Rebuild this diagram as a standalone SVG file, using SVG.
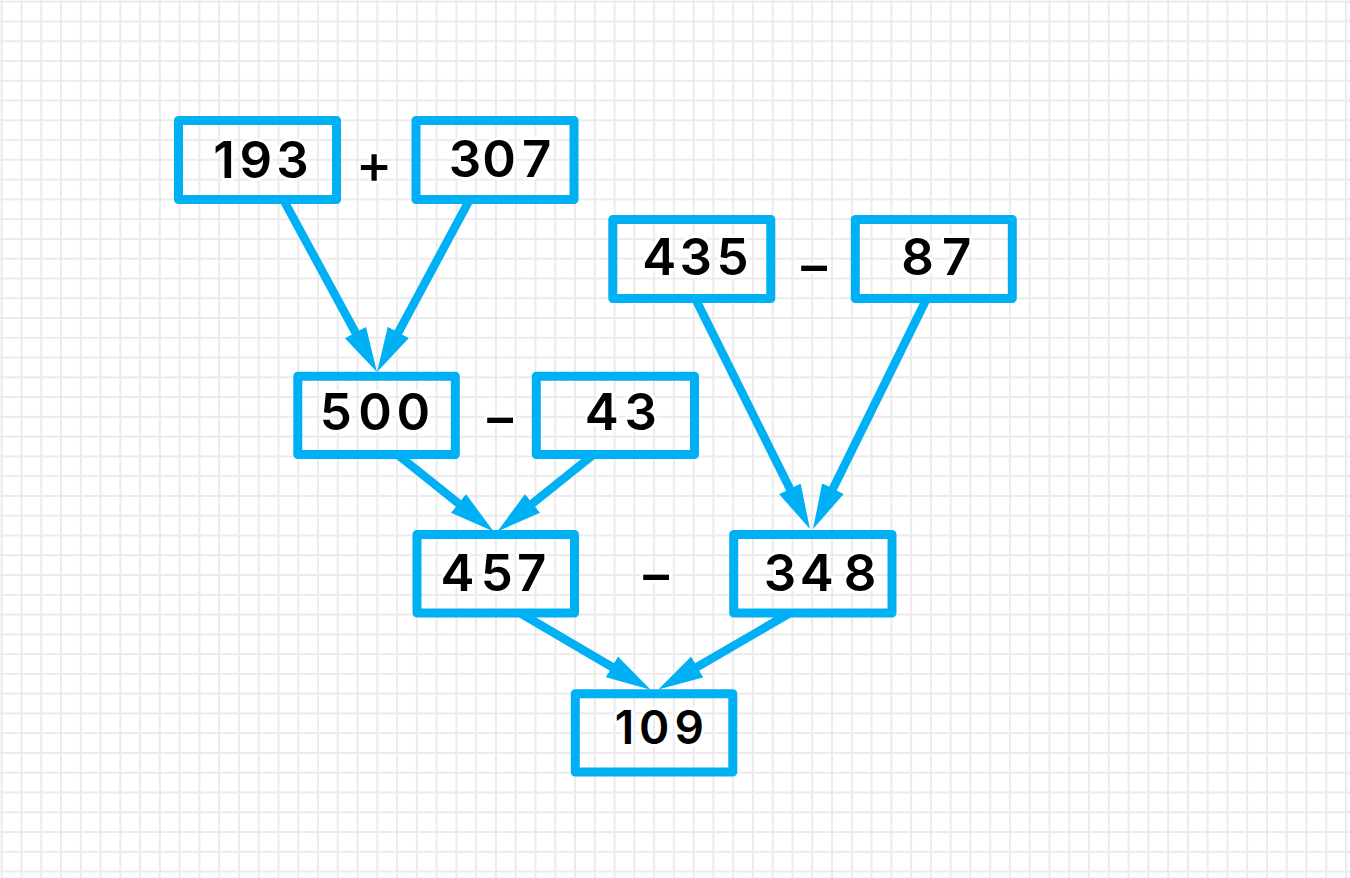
<svg xmlns="http://www.w3.org/2000/svg" width="1350" height="878" viewBox="0 0 1350 878">
<style>
.box{fill:none;stroke:#00b0f5;stroke-width:9;stroke-linejoin:round}
.num{font-family:Inter,"Liberation Sans",Arial,sans-serif;font-weight:600;font-size:51px;fill:#000;stroke:#fff;stroke-width:6;stroke-linejoin:round;paint-order:stroke;text-anchor:middle}
.op{font-family:Inter,"Liberation Sans",Arial,sans-serif;font-weight:500;font-size:55px;fill:#000;stroke:#fff;stroke-width:6;stroke-linejoin:round;paint-order:stroke;text-anchor:middle}
.arr{fill:none;stroke:#00b0f5;stroke-width:8.5;marker-end:url(#ah)}
</style>
<defs>
<pattern id="grid" patternUnits="userSpaceOnUse" x="0.7" y="0.7" width="19.77" height="19.77">
<rect x="0" y="0" width="19.77" height="2" fill="#ebebeb"/>
<rect x="0" y="0" width="2" height="19.77" fill="#ebebeb"/>
</pattern>
<marker id="ah" markerUnits="userSpaceOnUse" markerWidth="46" markerHeight="26" viewBox="0 0 46 26" refX="20" refY="13" orient="auto">
<path d="M0,1 L45,13 L0,25 z" fill="#00b0f5"/>
</marker>
</defs>
<rect width="1350" height="878" fill="#fff"/>
<rect width="1350" height="878" fill="url(#grid)"/>
<g id="connectors">
<line class="arr" x1="283" y1="199" x2="365.0" y2="350.1"/>
<line class="arr" x1="470" y1="199" x2="388.9" y2="350.0"/>
<line class="arr" x1="398" y1="455" x2="474.1" y2="515.9"/>
<line class="arr" x1="593" y1="455" x2="516.9" y2="515.9"/>
<line class="arr" x1="695" y1="298" x2="798.8" y2="506.7"/>
<line class="arr" x1="927" y1="298" x2="824.1" y2="506.6"/>
<line class="arr" x1="520" y1="613" x2="629.1" y2="677.0"/>
<line class="arr" x1="790" y1="613" x2="679.9" y2="677.0"/>
</g>
<g id="n193"><rect class="box" x="178.5" y="120.5" width="158" height="79"/><text class="num" x="224 255.8 292.5" y="178.3">193</text></g>
<g id="n307"><rect class="box" x="416" y="120.5" width="158" height="79"/><text class="num" x="465 499.2 536.7" y="176.7">307</text></g>
<g id="op1"><text class="op" x="374" y="183">+</text></g>
<g id="n435"><rect class="box" x="612.8" y="219.5" width="158" height="79"/><text class="num" x="659.2 695.8 732.5" y="275">435</text></g>
<g id="n87"><rect class="box" x="855.3" y="219.5" width="157" height="79"/><text class="num" x="917.5 956.7" y="275">87</text></g>
<g id="op2"><text class="op" x="814" y="284">−</text></g>
<g id="n500"><rect class="box" x="297.8" y="376.3" width="157.5" height="78.2"/><text class="num" x="335.8 375 413.3" y="430">500</text></g>
<g id="n43"><rect class="box" x="536.3" y="376.3" width="158.2" height="78.2"/><text class="num" x="601.7 640.8" y="430">43</text></g>
<g id="op3"><text class="op" x="500" y="435.7">−</text></g>
<g id="n457"><rect class="box" x="417" y="534.5" width="157.5" height="78.5"/><text class="num" x="457.5 496.7 531.7" y="591">457</text></g>
<g id="n348"><rect class="box" x="733.7" y="534.5" width="158.3" height="78.5"/><text class="num" x="780 816.7 860" y="591">348</text></g>
<g id="op4"><text class="op" x="656" y="593">−</text></g>
<g id="n109"><rect class="box" x="575.3" y="693.8" width="157.5" height="78.2"/><text class="num" style="font-size:46px" x="624.5 654.2 689.2" y="744.3">109</text></g>
</svg>
